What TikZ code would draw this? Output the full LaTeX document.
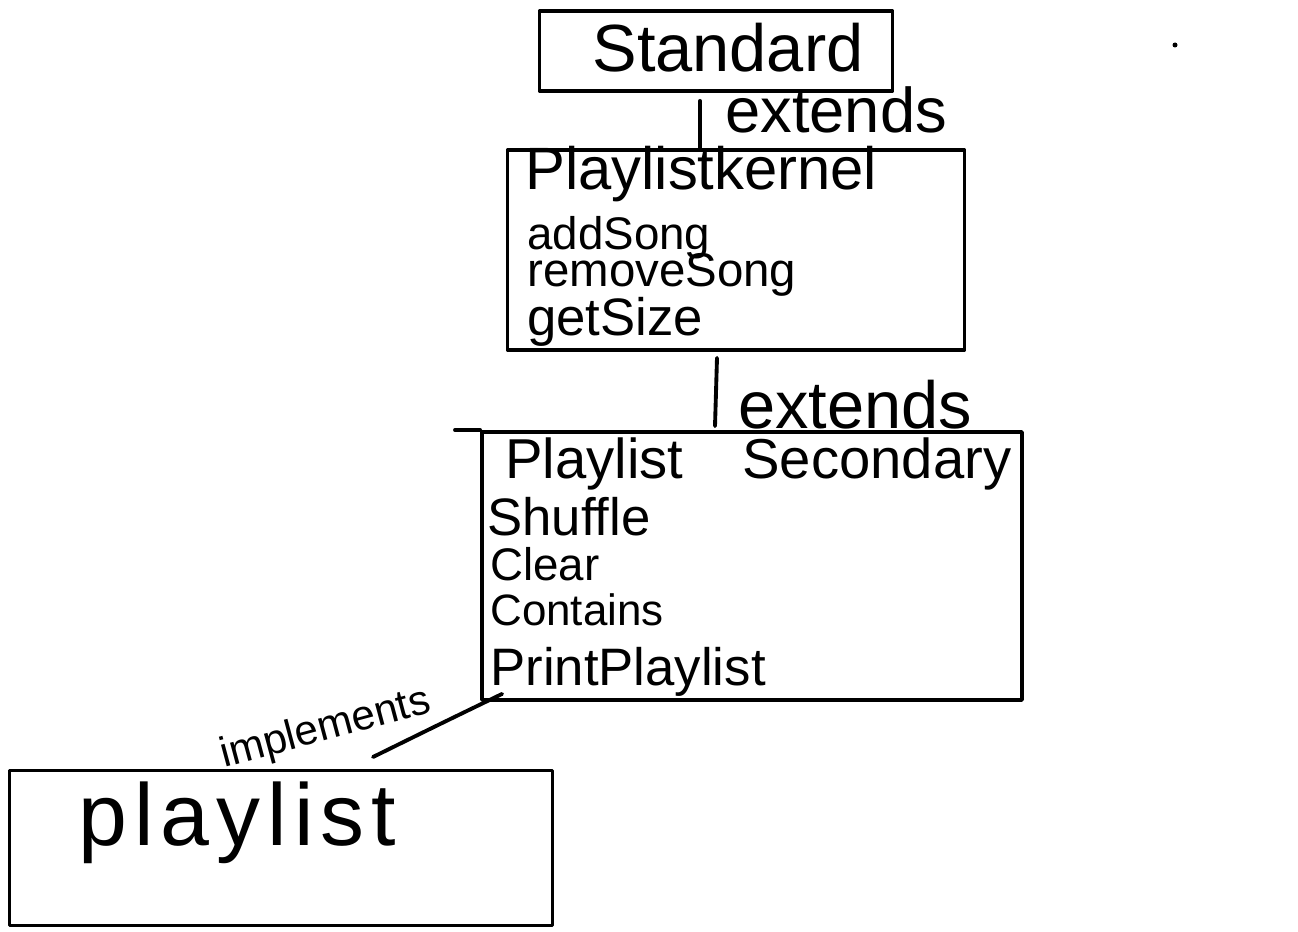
\documentclass[tikz,border=0pt]{standalone}
\usepackage{fontspec}
\setmainfont{Liberation Sans}
\usetikzlibrary{calc}
\tikzset{
  ink/.style={line width=2.2pt, line cap=round, line join=round},
  boxnode/.style={ink, draw, rectangle, inner sep=0pt},
  lbl/.style={inner sep=0pt, anchor=base west},
}
\begin{document}
\begin{tikzpicture}[x=0.02cm,y=-0.02cm]
\useasboundingbox (0,0) rectangle (1298,932);
% boxes
\node[boxnode, minimum width=7.06cm, minimum height=1.6cm] (std) at (716,51) {};
\node[boxnode, minimum width=9.14cm, minimum height=4.0cm] (kern) at (736,250) {};
\node[boxnode, minimum width=10.8cm, minimum height=5.36cm] (sec) at (752,566) {};
\node[boxnode, minimum width=10.86cm, minimum height=3.1cm] (pl) at (281,848) {};
% texts
\node[inner sep=0pt, font=\fontsize{38}{40}\selectfont] (stdt) at (728,48) {Standard};
\node[lbl, font=\fontsize{34}{36}\selectfont] (kernt) at (525,190) {Playlistkernel};
\node[lbl, font=\fontsize{26}{28}\selectfont] (k1) at (527,250) {addSong};
\node[lbl, font=\fontsize{27}{29}\selectfont] (k2) at (527,287) {removeSong};
\node[lbl, font=\fontsize{30}{32}\selectfont] (k3) at (527,336) {getSize};
\node[lbl, font=\fontsize{32}{34}\selectfont] (sect) at (505,478) {Playlist\hspace{1.05em}Secondary};
\node[lbl, font=\fontsize{30}{32}\selectfont] (s1) at (487,535) {Shuffle};
\node[lbl, font=\fontsize{26}{28}\selectfont] (s2) at (490,580) {Clear};
\node[lbl, font=\fontsize{25}{27}\selectfont] (s3) at (490,625) {Contains};
\node[lbl, font=\fontsize{30}{32}\selectfont] (s4) at (490,685) {PrintPlaylist};
\node[lbl, font=\fontsize{50}{52}\selectfont\addfontfeature{LetterSpace=8}] (plt) at (78,845) {playlist};
% connectors
\coordinate (c1) at (700,0);
\coordinate (c2) at (717,0);
\draw[ink] ($(std.south -| c1)+(0,8)$) -- (kern.north -| c1);
\node[lbl, font=\fontsize{36}{38}\selectfont] (ext1) at (725,133) {extends};
\draw[ink] ($(kern.south -| c2)+(0,6)$) -- ($(sec.north -| c2)+(-2,-4)$);
\node[lbl, font=\fontsize{38}{40}\selectfont] (ext2) at (738,428) {extends};
\coordinate (tl) at (455,0);
\draw[ink] (sec.north west -| tl) -- (sec.north west);
\coordinate (implend) at (373,757);
\draw[ink] ($(sec.south west)+(22,-8)$) .. controls (440,724) .. (implend);
\node[lbl, font=\fontsize{24}{26}\selectfont, rotate=15] (impl) at (224,768) {implements};
% stray dot
\fill (1175,45) circle (2.5);
\end{tikzpicture}
\end{document}
